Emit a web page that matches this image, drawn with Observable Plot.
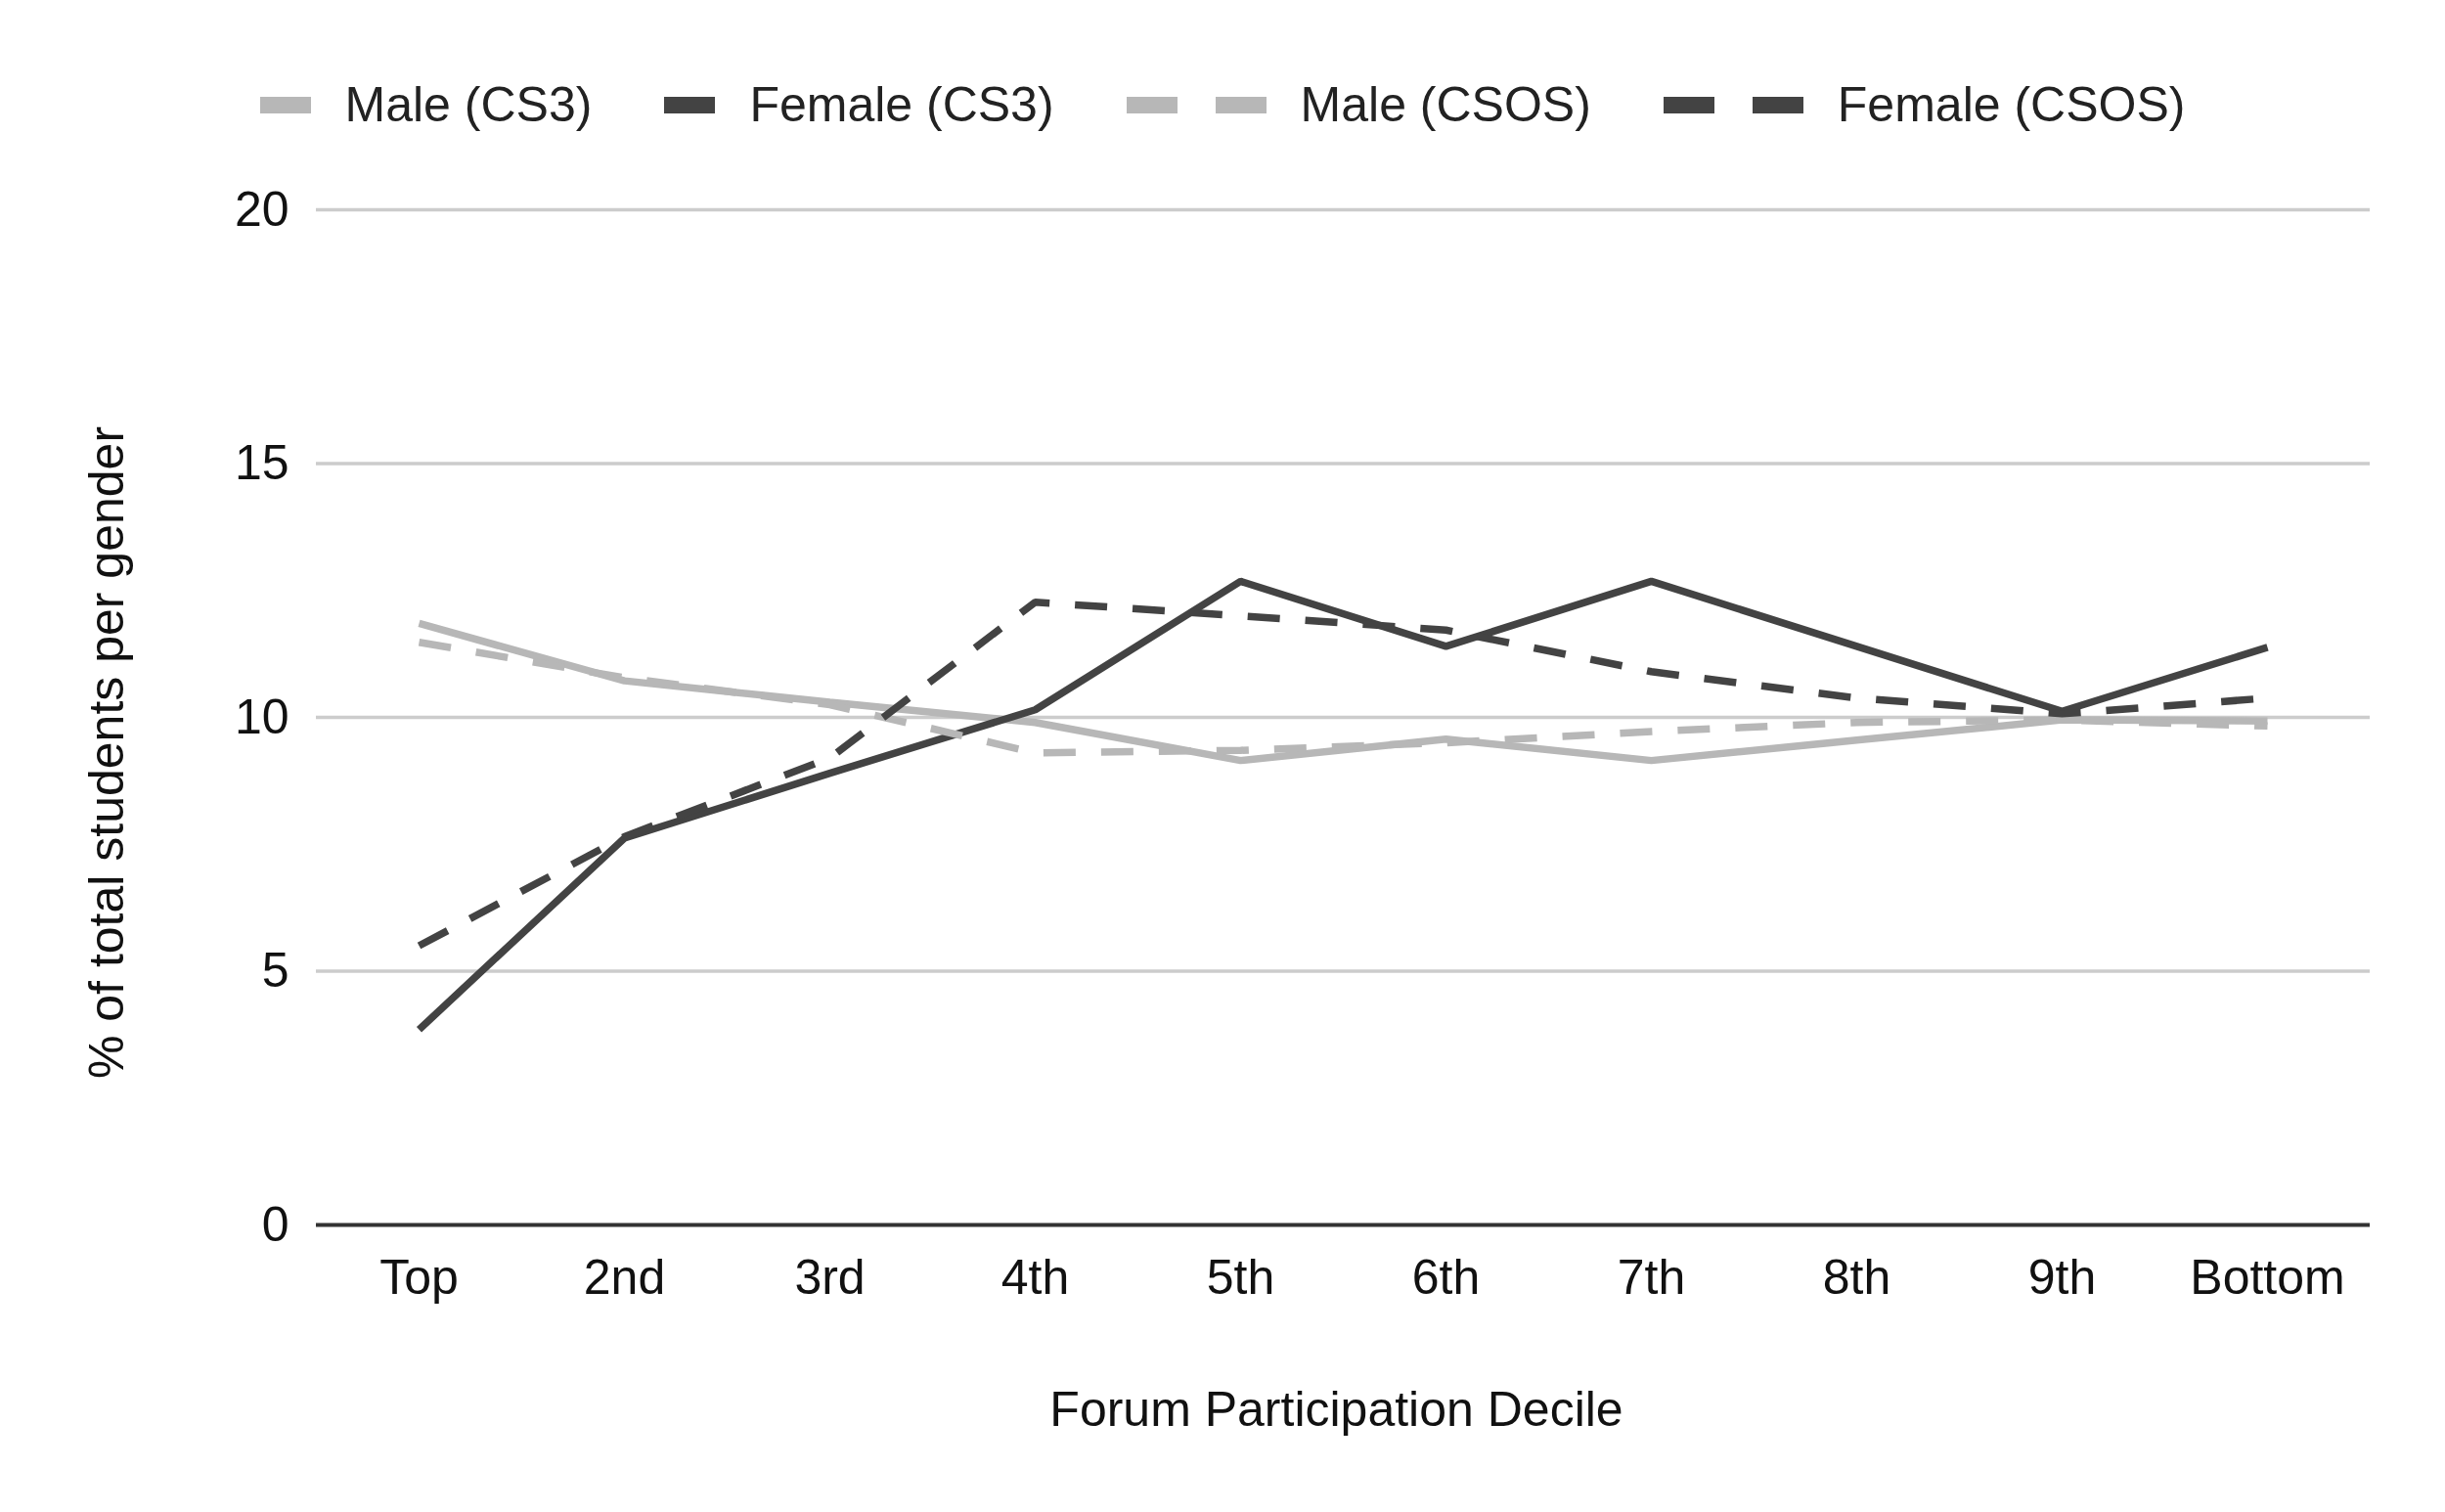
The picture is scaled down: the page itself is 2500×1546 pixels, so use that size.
<!DOCTYPE html>
<html>
<head>
<meta charset="utf-8">
<script src="https://cdn.jsdelivr.net/npm/d3@7"></script>
<script src="https://cdn.jsdelivr.net/npm/@observablehq/plot@0.6"></script>
<style>
  html, body { margin: 0; padding: 0; background: #ffffff; }
  body { width: 2500px; height: 1546px; overflow: hidden; font-family: "Liberation Sans", Arial, sans-serif; }
  #legend {
    height: 126px; padding-top: 44px;
    display: flex; justify-content: center; align-items: center;
    font-size: 50px; color: #222;
  }
  .item { display: flex; align-items: center; margin: 0 37px; }
  .sw { display: flex; align-items: center; margin-right: 35px; }
  .box { width: 52px; height: 17px; }
  .box + .box { margin-left: 39px; }
  #chart svg { display: block; }
</style>
</head>
<body>
<div id="legend"></div>
<div id="chart"></div>
<script>
const deciles = ["Top", "2nd", "3rd", "4th", "5th", "6th", "7th", "8th", "9th", "Bottom"];
const yTicks = [0, 5, 10, 15, 20];
const seriesNames = ["Male (CS3)", "Female (CS3)", "Male (CSOS)", "Female (CSOS)"];
const maleCS3 = [11.85, 10.72, 10.3, 9.9, 9.15, 9.57, 9.15, 9.55, 9.95, 9.93];
const femaleCS3 = [3.85, 7.62, 8.9, 10.15, 12.68, 11.4, 12.68, 11.4, 10.12, 11.38];
const maleCSOS = [11.48, 10.78, 10.25, 9.3, 9.35, 9.5, 9.72, 9.9, 9.95, 9.83];
const femaleCSOS = [5.5, 7.65, 9.2, 12.27, 12.0, 11.72, 10.9, 10.38, 10.07, 10.38];

const xTitle = "Forum Participation Decile";
const yTitle = "% of total students per gender";

const light = "#b7b7b7", dark = "#434343";
const styles = [
  {color: light, dashed: false},
  {color: dark, dashed: false},
  {color: light, dashed: true},
  {color: dark, dashed: true}
];
const values = [maleCS3, femaleCS3, maleCSOS, femaleCSOS];

const rows = [];
seriesNames.forEach((s, i) => values[i].forEach((v, j) => rows.push({series: s, decile: deciles[j], value: v})));

// Legend
const legend = document.getElementById("legend");
seriesNames.forEach((s, i) => {
  const item = document.createElement("div");
  item.className = "item";
  const sw = document.createElement("div");
  sw.className = "sw";
  const n = styles[i].dashed ? 2 : 1;
  for (let k = 0; k < n; k++) {
    const b = document.createElement("div");
    b.className = "box";
    b.style.background = styles[i].color;
    sw.appendChild(b);
  }
  const t = document.createElement("span");
  t.textContent = s;
  item.appendChild(sw);
  item.appendChild(t);
  legend.appendChild(item);
});

const lineMarks = seriesNames.map((s, i) =>
  Plot.line(rows.filter(r => r.series === s), {
    x: "decile", y: "value",
    stroke: styles[i].color, strokeWidth: 7.5,
    strokeDasharray: styles[i].dashed ? "33,26" : null,
    strokeLinejoin: "miter", strokeLinecap: "butt"
  })
);

const chart = Plot.plot({
  width: 2500, height: 1376,
  marginLeft: 323, marginRight: 77, marginTop: 44, marginBottom: 294,
  style: {fontFamily: "'Liberation Sans', Arial, sans-serif", fontSize: "50px", color: "#111", background: "#ffffff"},
  x: {type: "point", domain: deciles, padding: 0.5, label: null},
  y: {domain: [0, 20], label: null},
  marks: [
    Plot.ruleY(yTicks.filter(d => d > 0), {stroke: "#cccccc", strokeWidth: 3.5}),
    Plot.ruleY([0], {stroke: "#333333", strokeWidth: 4}),
    Plot.axisY({ticks: yTicks, tickSize: 0, tickPadding: 28, label: null, fontSize: 50}),
    Plot.axisX({tickSize: 0, tickPadding: 35, label: null, fontSize: 50}),
    ...lineMarks,
    Plot.text([xTitle], {frameAnchor: "bottom", dx: -7, dy: 205, text: d => d, fontSize: 50, fill: "#111"}),
    Plot.text([yTitle], {frameAnchor: "left", dx: -214, dy: 36, rotate: -90, textAnchor: "middle", text: d => d, fontSize: 50, fill: "#111"})
  ]
});
document.getElementById("chart").appendChild(chart);
</script>
</body>
</html>
